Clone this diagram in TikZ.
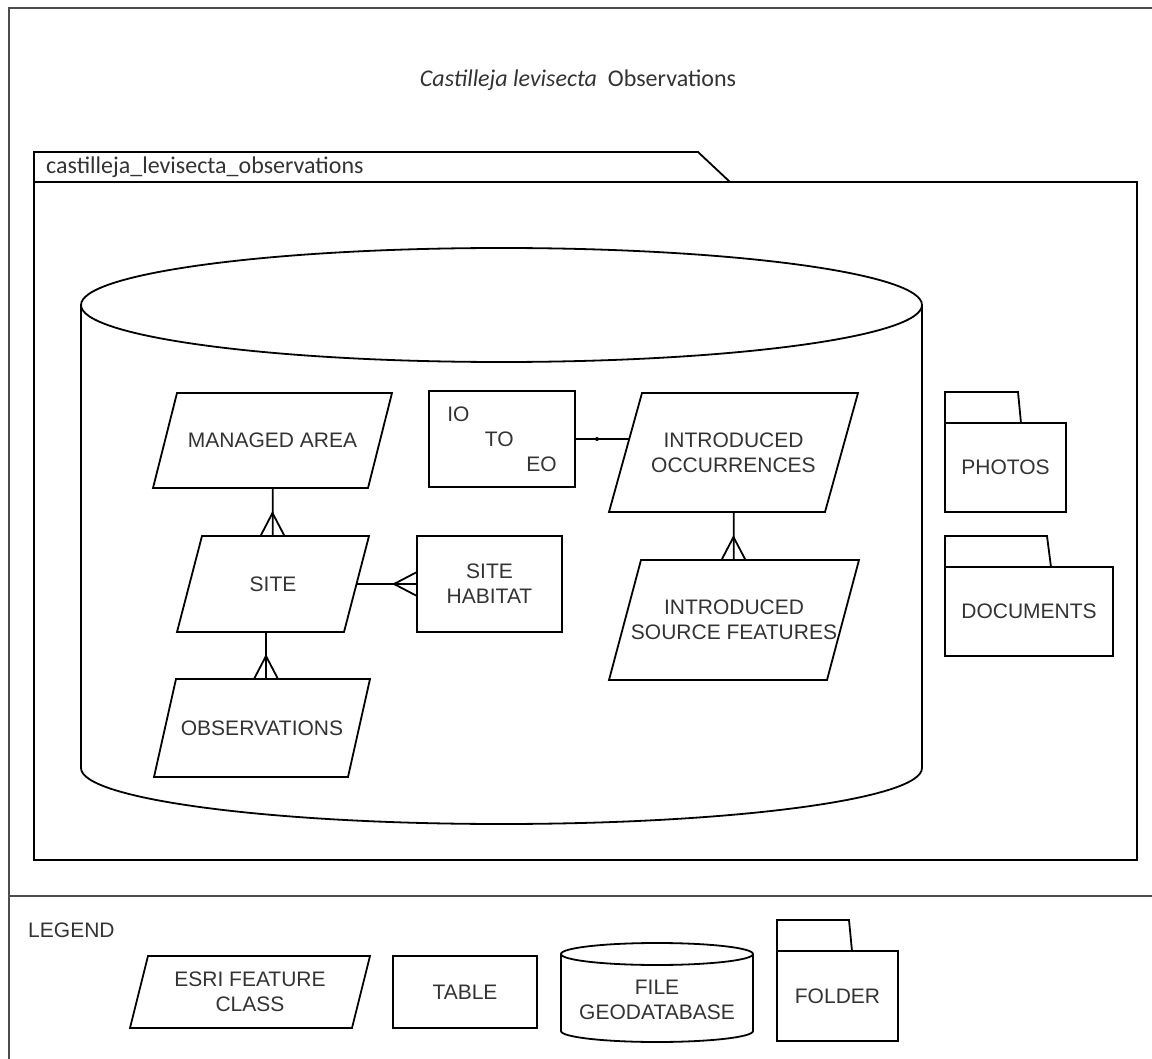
\documentclass[tikz,border=0pt]{standalone}
\usepackage{fontspec}
\setmainfont{Liberation Sans}
\newfontfamily\calfont{Carlito}
\usetikzlibrary{calc}

\tikzset{
  feature/.style={rectangle, inner sep=0pt, outer sep=0pt, align=center},
  tablebox/.style={draw, rectangle, inner sep=0pt, outer sep=0pt, align=center},
  folderbox/.style={draw, rectangle, inner sep=0pt, outer sep=0pt},
  frameline/.style={black!70, line width=2.2pt},
}

\begin{document}
\begin{tikzpicture}[x=1pt,y=-1pt,line width=1.8pt,font=\fontsize{21}{25}\selectfont,text=black!80]
\useasboundingbox (0,0) rectangle (1152,1059);
\def\crow{23}
\def\spread{12}
% parallelogram round a feature class node: #1 name, #2 slant
\def\fcoutline#1#2{\draw (#1.south west) -- ($(#1.north west)+(#2,0)$) -- (#1.north east) -- ($(#1.south east)+(-#2,0)$) -- cycle;}

% outer frame and legend separator
\draw[frameline] (1152,8) -- (9,8) -- (9,1059);
\draw[frameline] (9,896) -- (1152,896);
\node[font=\calfont\fontsize{24}{28}\selectfont] (title) at (578,80) {\textit{Castilleja levisecta}\ \ Observations};

% package
\draw (34,182) -- (34,152) -- (698,152) -- (730,182);
\draw (34,182) rectangle (1137,860);
\node[anchor=west, font=\calfont\fontsize{24}{28}\selectfont] (pkg) at (42,167) {castilleja\_levisecta\_observations};

% file geodatabase
\draw (501.5,305) ellipse [x radius=420.5pt, y radius=57pt];
\draw (81,305) -- (81,768) arc [start angle=180, end angle=360, x radius=420.5pt, y radius=56pt] -- (922,305);

% feature classes and tables
\node[feature, minimum width=239pt, minimum height=95pt] (ma) at (272.5,440.5) {MANAGED AREA};
\fcoutline{ma}{24}
\node[feature, minimum width=192pt, minimum height=96pt] (site) at (273,584) {SITE};
\fcoutline{site}{25}
\node[feature, minimum width=216pt, minimum height=98pt] (obs) at (262,728) {OBSERVATIONS};
\fcoutline{obs}{22}
\node[tablebox, minimum width=145pt, minimum height=96pt] (hab) at (489.5,584) {SITE\\HABITAT};
\node[tablebox, align=left, minimum width=146pt, minimum height=96pt] (iote) at (502,439)
  {IO\\\hspace*{37.5pt}TO\\\hspace*{79pt}EO};
\node[feature, minimum width=249pt, minimum height=119pt] (occ) at (733.5,452.5) {INTRODUCED\\OCCURRENCES};
\fcoutline{occ}{33}
\node[feature, minimum width=250pt, minimum height=120pt] (isf) at (734,620) {INTRODUCED\\SOURCE FEATURES};
\fcoutline{isf}{32}

% folders
\node[folderbox, minimum width=121pt, minimum height=89pt] (photos) at (1005.5,467.5) {PHOTOS};
\draw (photos.north west) -- ++(0,-31) -- ++(73,0) -- ++(3,31);
\node[folderbox, minimum width=168pt, minimum height=89pt] (docs) at (1029,611.5) {DOCUMENTS};
\draw (docs.north west) -- ++(0,-31) -- ++(102,0) -- ++(4,31);

% relationships
\draw (ma) -- (site);
\coordinate (c1) at (ma |- site.north);
\draw (c1) ++(-\spread,0) -- ++(\spread,-\crow) -- ++(\spread,\crow);

\coordinate (c2) at ($(site.east)+(-12.5,0)$);
\draw (c2) -- (hab);
\draw (hab.west) ++(0,-\spread) -- ++(-\crow,\spread) -- ++(\crow,\spread);

\coordinate (c3a) at (site.south);
\coordinate (c3) at ($(obs.north)+(4,0)$);
\draw (c3 |- c3a) -- (c3);
\draw (c3) ++(-\spread,0) -- ++(\spread,-\crow) -- ++(\spread,\crow);

\coordinate (c4a) at (iote.east -| occ.west);
\coordinate (c4) at ($(c4a)+(20,0)$);
\draw (iote.east) -- (c4);
\fill ($(iote.east)+(22,0)$) circle (2pt);

\draw (occ) -- (isf);
\coordinate (c5) at (occ |- isf.north);
\draw (c5) ++(-\spread,0) -- ++(\spread,-\crow) -- ++(\spread,\crow);

% legend
\node[anchor=west] (legend) at (24,930) {LEGEND};
\node[feature, minimum width=240pt, minimum height=72pt] (lfc) at (250,992) {ESRI FEATURE\\CLASS};
\fcoutline{lfc}{18}
\node[tablebox, minimum width=144pt, minimum height=72pt] (ltbl) at (465,992) {TABLE};
\draw (657,954) ellipse [x radius=96pt, y radius=11pt];
\draw (561,954) -- (561,1031) arc [start angle=180, end angle=360, x radius=96pt, y radius=11pt] -- (753,954);
\node[align=center] (lgdb) at (657,999.5) {FILE\\GEODATABASE};
\node[folderbox, minimum width=121pt, minimum height=90pt] (lfold) at (837.5,996) {FOLDER};
\draw (lfold.north west) -- ++(0,-31) -- ++(72,0) -- ++(3,31);
\end{tikzpicture}
\end{document}
